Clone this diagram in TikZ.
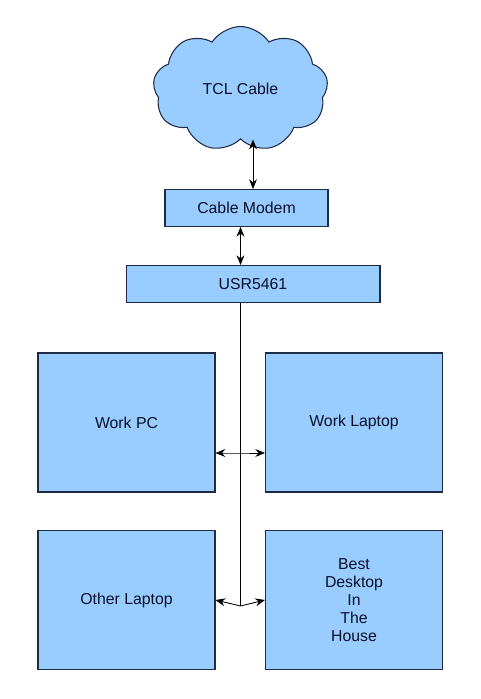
\documentclass[tikz,border=0pt]{standalone}
\usepackage{fontspec}
\setmainfont{Liberation Sans}
\usepackage{tikz}
\usetikzlibrary{shapes.symbols, arrows.meta, positioning}
\usepackage{xcolor}
\definecolor{boxblue}{HTML}{99CCFF}
\definecolor{boxline}{HTML}{1F2A44}
\definecolor{textnavy}{HTML}{0A0F2A}

\begin{document}
\begin{tikzpicture}[x=0.02cm, y=-0.02cm,
    box/.style={rectangle, draw=boxline, fill=boxblue, line width=0.6pt, text=textnavy,
        font=\fontsize{9}{10.2}\selectfont, align=center, inner sep=0pt},
    link/.style={{Stealth[length=5.5pt, width=4.5pt]}-{Stealth[length=5.5pt, width=4.5pt]}, line width=0.5pt}]
    \useasboundingbox (0,0) rectangle (480,699);
    % Internet side
    \node[cloud, cloud puffs=9, cloud puff arc=115, aspect=1.5, draw=boxline, fill=boxblue,
        line width=0.6pt, text=textnavy, font=\fontsize{9}{10.2}\selectfont,
        minimum width=3.5cm, minimum height=2.5cm] (tcl) at (240.5,89) {TCL Cable};
    \node[box, minimum width=3.26cm, minimum height=0.74cm] (modem) at (246.5,208) {Cable Modem};
    \node[box, minimum width=5.08cm, minimum height=0.74cm] (usr) at (253,284) {USR5461};
    % Computers
    \foreach \name/\x/\y/\txt in {workpc/126.5/422.5/{Work PC},
        worklaptop/354/422.5/{Work Laptop},
        otherlaptop/126.5/600/{Other Laptop},
        bestdesk/354/600/{Best\\Desktop\\In\\The\\House}} {
        \node[box, minimum width=3.54cm, minimum height=2.78cm] (\name) at (\x,\y) {\txt};
    }
    % Connections
    \draw[link] (tcl.south -| usr.north) -- (modem.north -| usr.north);
    \draw[link] (modem.south -| tcl.center) -- (usr.north -| tcl.center);
    \coordinate (tap) at (240.5,453);
    \coordinate (hub) at (240.5,606);
    \draw[line width=0.6pt] (usr.south -| tap) -- (hub);
    \draw[link] (workpc.east |- tap) -- (tap) -- (worklaptop.west |- tap);
    \draw[link] (otherlaptop.east) -- (hub) -- (bestdesk.west);
\end{tikzpicture}
\end{document}
